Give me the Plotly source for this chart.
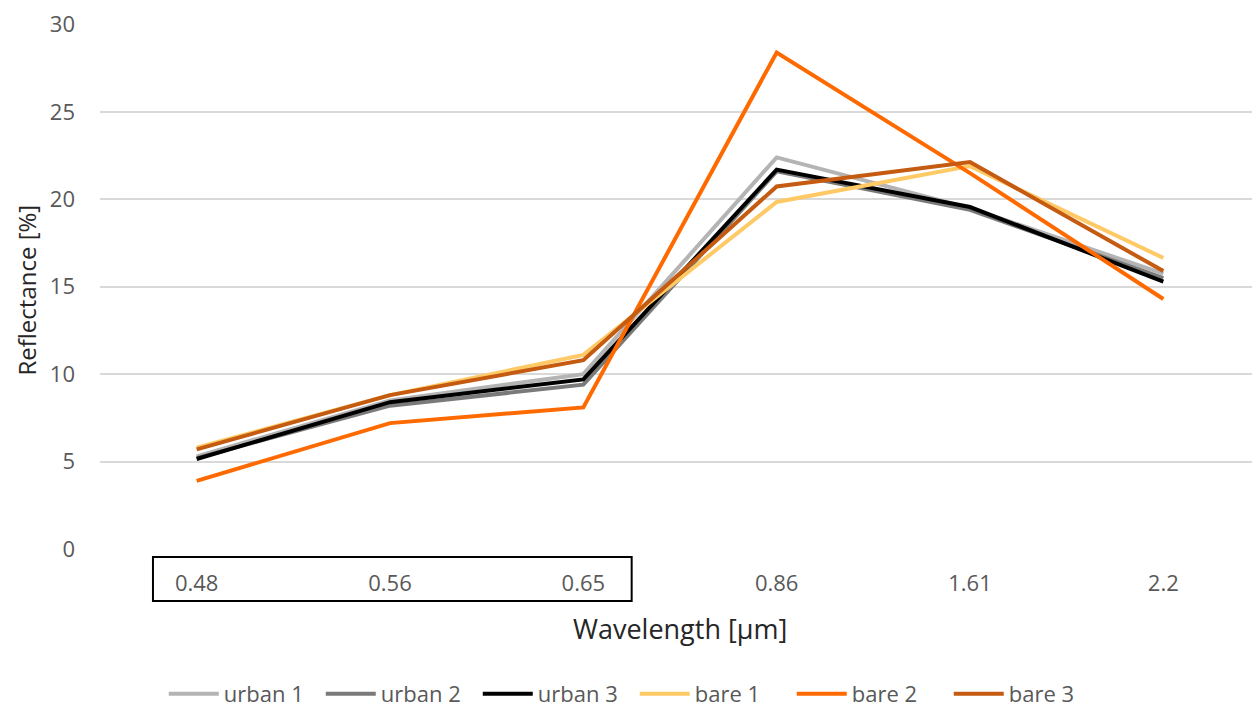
import plotly.graph_objects as go

categories = ["0.48", "0.56", "0.65", "0.86", "1.61", "2.2"]
urban_1 = [5.3, 8.5, 10.0, 22.4, 19.5, 15.75]
urban_2 = [5.2, 8.2, 9.4, 21.6, 19.4, 15.5]
urban_3 = [5.15, 8.4, 9.7, 21.7, 19.56, 15.3]
bare_1 = [5.8, 8.8, 11.1, 19.85, 21.9, 16.65]
bare_2 = [3.9, 7.2, 8.1, 28.4, 21.5, 14.3]
bare_3 = [5.7, 8.8, 10.8, 20.74, 22.13, 15.9]

series = [
    ("urban 1", urban_1, "#b4b4b4"),
    ("urban 2", urban_2, "#7a7a7a"),
    ("urban 3", urban_3, "#000000"),
    ("bare 1", bare_1, "#ffc966"),
    ("bare 2", bare_2, "#ff6a00"),
    ("bare 3", bare_3, "#c55a11"),
]

font_family = "Open Sans, Noto Sans, sans-serif"

fig = go.Figure()
for name, vals, color in series:
    fig.add_trace(go.Scatter(
        x=categories, y=vals, name=name, mode="lines",
        line=dict(color=color, width=4),
    ))

fig.update_layout(
    width=1252, height=701,
    margin=dict(l=92, r=0, t=16, b=160, autoexpand=False),
    paper_bgcolor="white", plot_bgcolor="white",
    font=dict(family=font_family, size=22, color="#595959"),
    showlegend=True,
    legend=dict(
        orientation="h", x=0.461, xanchor="center", y=-0.276, yanchor="middle",
        font=dict(size=22, color="#595959"), itemwidth=50, entrywidth=92,
        traceorder="normal",
    ),
    xaxis=dict(
        type="category", range=[-0.5, 5.5], showgrid=False, zeroline=False,
        showline=False, ticks="", ticklabelstandoff=19, automargin=False,
        tickfont=dict(size=22, color="#595959"),
    ),
    yaxis=dict(
        range=[0, 30.03], tickmode="array", tickvals=[0, 5, 10, 15, 20, 25, 30],
        showgrid=True, gridcolor="#d9d9d9", gridwidth=1.5,
        zeroline=False, showline=False, ticks="", ticklabelstandoff=24,
        automargin=False,
        tickfont=dict(size=22, color="#595959"),
    ),
    annotations=[
        dict(text="Wavelength [µm]", xref="paper", yref="paper", x=0.5, y=-0.152,
             showarrow=False, xanchor="center", yanchor="middle",
             font=dict(size=27, color="#262626")),
        dict(text="Reflectance [%]", xref="paper", yref="paper", x=-0.063, y=0.494,
             showarrow=False, xanchor="center", yanchor="middle", textangle=-90,
             font=dict(size=24, color="#262626")),
    ],
    shapes=[
        dict(type="rect", xref="x", yref="paper", x0=-0.226, x1=2.25,
             y0=-0.0152, y1=-0.099, line=dict(color="black", width=2),
             fillcolor="rgba(0,0,0,0)"),
    ],
)

fig.write_html("out.html")
